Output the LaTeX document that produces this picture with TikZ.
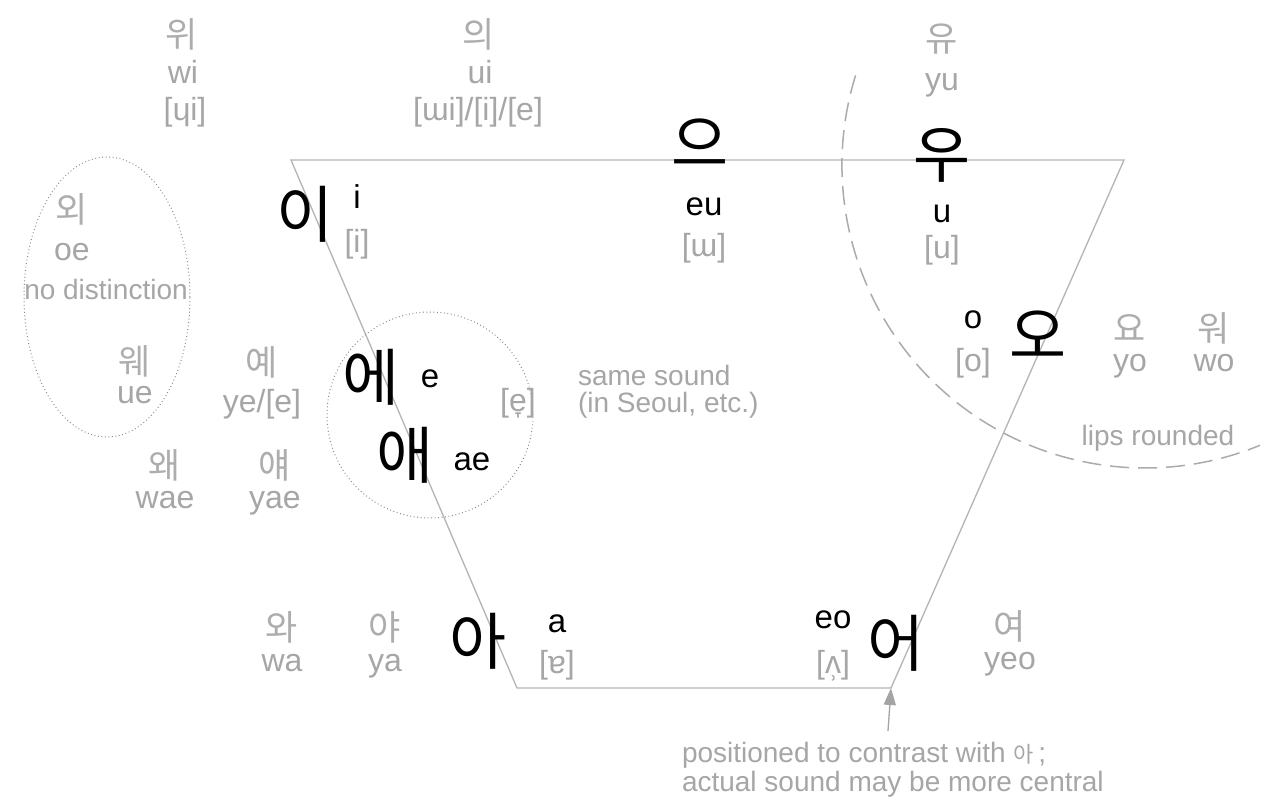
\documentclass[tikz,border=0pt]{standalone}
\usepackage{fontspec}
\setmainfont{Liberation Sans}
\newfontfamily\kr{Noto Sans CJK KR}
\usetikzlibrary{arrows.meta}
\definecolor{lbl}{HTML}{A6A6A6}
\definecolor{lblk}{HTML}{ADADAD}
\definecolor{edgec}{HTML}{B4B4B4}
\definecolor{dotc}{HTML}{8C8C8C}
\definecolor{dashc}{HTML}{ABABAB}
\definecolor{arrc}{HTML}{A4A4A4}
\begin{document}
\begin{tikzpicture}[x=1pt,y=-1pt,
  every node/.style={inner sep=0pt,outer sep=0pt},
  big/.style={font=\kr\fontsize{62}{62}\selectfont,text=black},
  rom/.style={font=\fontsize{33}{33}\selectfont,text=black,anchor=base},
  gr/.style={font=\fontsize{32}{32}\selectfont,text=lbl,anchor=base},
  remark/.style={font=\fontsize{28}{28}\selectfont,text=lbl,anchor=base},
  remarkw/.style={remark,anchor=base west},
  gk/.style={font=\kr\fontsize{35}{35}\selectfont,text=lblk},
  chart/.style={draw=edgec,line width=1.3pt,line join=miter},
  dotted ring/.style={draw=dotc,line width=1pt,dash pattern=on 0.9pt off 2.6pt},
  lips/.style={draw=dashc,line width=1.5pt,dash pattern=on 19pt off 9pt},
  pointer/.style={draw=arrc,line width=1.3pt,-{Triangle[length=17pt,width=12pt]}}]
\fill[white] (0,0) rectangle (1286,798);
\useasboundingbox (0,0) rectangle (1286,798);

% vowel trapezoid
\coordinate (TL) at (291,160);
\coordinate (TR) at (1124,160);
\coordinate (BR) at (891,688);
\coordinate (BL) at (517,688);
\draw[chart] (TL) -- (TR) -- (BR) -- (BL) -- cycle;

% groupings
\draw[dotted ring] (107,297) ellipse[x radius=83pt,y radius=140pt];
\draw[dotted ring] (430,415) circle[radius=103pt];
\coordinate (lipsC) at (1145,165);
\draw[lips] ([shift={(162.8:303pt)}]lipsC) arc[start angle=162.8,end angle=292.3,radius=303pt];

% top row: diphthongs
\node[gk] (wiK) at (182,34) {위};
\node[gr] (wiR) at (183,83) {wi};
\node[gr] (wiI) at (185,120) {[ɥi]};
\node[gk] (uiK) at (479,34) {의};
\node[gr] (uiR) at (480,83) {ui};
\node[gr] (uiI) at (478,120) {[ɯi]/[i]/[e]};
\node[gk] (yuK) at (942,39) {유};
\node[gr] (yuR) at (942,90) {yu};

% close vowels
\node[big] (i) at (305,214) {이};
\node[rom] (iR) at (357,208) {i};
\node[gr] (iI) at (357,252) {[i]};
\node[big] (eu) at (700,143) {으};
\node[rom] (euR) at (704,215) {eu};
\node[gr] (euI) at (704,256) {[ɯ]};
\node[big] (u) at (942,155) {우};
\node[rom] (uR) at (942,222) {u};
\node[gr] (uI) at (942,258) {[u]};

% left group
\node[gk] (oeK) at (72,209) {외};
\node[gr] (oeR) at (72,260) {oe};
\node[remark] (nodist) at (106,299) {no distinction};
\node[gk] (ueK) at (135,361) {웨};
\node[gr] (ueR) at (135,403) {ue};
\node[gk] (yeK) at (262,362) {예};
\node[gr] (yeR) at (262,412) {ye/[e]};
\node[gk] (waeK) at (165,465) {왜};
\node[gr] (waeR) at (165,508) {wae};
\node[gk] (yaeK) at (275,465) {얘};
\node[gr] (yaeR) at (275,508) {yae};

% mid front vowels
\node[big] (e) at (371,377) {에};
\node[rom] (eR) at (430,387) {e};
\node[big] (ae) at (405,455) {애};
\node[rom] (aeR) at (472,470) {ae};
\node[gr] (eI) at (518,411) {[e̞]};
\node[remarkw] (same1) at (578,385) {same sound};
\node[remarkw] (same2) at (578,412) {(in Seoul, etc.)};

% mid back vowels
\node[big] (o) at (1038,335) {오};
\node[rom] (oR) at (973,328) {o};
\node[gk] (yoK) at (1130,328) {요};
\node[gr] (oI) at (973,371) {[o]};
\node[gr] (yoR) at (1130,371) {yo};
\node[gk] (woK) at (1214,328) {워};
\node[gr] (woR) at (1214,371) {wo};
\node[remark] (lipsL) at (1158,445) {lips rounded};

% open vowels
\node[gk] (waK) at (282,627) {와};
\node[gr] (waR) at (282,671) {wa};
\node[gk] (yaK) at (385,627) {야};
\node[gr] (yaR) at (385,671) {ya};
\node[big] (a) at (478,641) {아};
\node[rom] (aR) at (557,632) {a};
\node[gr] (aI) at (557,673) {[ɐ]};
\node[rom] (eoR) at (833,628) {eo};
\node[gr] (eoI) at (833,673) {[ʌ̹]};
\node[big] (eo) at (896,643) {어};
\node[gk] (yeoK) at (1010,626) {여};
\node[gr] (yeoR) at (1010,669) {yeo};

% note on the position of 어
\node[remarkw] (note1) at (682,762) {positioned to contrast with {\kr\fontsize{22}{22}\selectfont 아}\,;};
\node[remarkw] (note2) at (682,791) {actual sound may be more central};
\coordinate (noteTop) at (888,731);
\draw[pointer] (noteTop) -- (BR);
\end{tikzpicture}
\end{document}
